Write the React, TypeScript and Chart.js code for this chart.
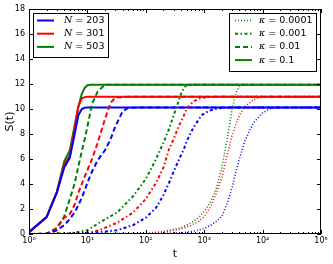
import React, { useEffect, useRef } from 'react';
import { Chart, registerables } from 'chart.js';
Chart.register(...registerables);

const BLUE = '#0000ff';
const RED = '#ff0000';
const GREEN = '#008000';

const nLabels = ['203', '301', '503'];
const nColors = [BLUE, RED, GREEN];
const kappaLabels = ['0.0001', '0.001', '0.01', '0.1'];
const kappaDash: number[][] = [[1, 2], [3, 2.5, 1.5, 2.5], [5, 3], []];
const kappaWidth = [1.5, 2, 2, 2];

const yTicks = [0, 2, 4, 6, 8, 10, 12, 14, 16, 18];
const xTicks = [1, 10, 100, 1000, 10000, 100000];

// kappa = 0.1 (solid)
const tK1 = [1, 2, 3, 4, 5, 6, 7, 8, 9, 10, 12, 15, 20, 100000];
const sK1N203 = [0.15, 1.35, 3.3, 5.3, 6.1, 7.9, 9.5, 10.0, 10.1, 10.12, 10.12, 10.12, 10.12, 10.12];
const sK1N301 = [0.15, 1.35, 3.35, 5.5, 6.3, 8.3, 10.2, 10.85, 10.95, 10.98, 10.98, 10.98, 10.98, 10.98];
const sK1N503 = [0.15, 1.35, 3.4, 5.8, 6.7, 8.6, 10.2, 11.2, 11.7, 11.9, 11.95, 11.95, 11.95, 11.95];

// kappa = 0.01 (dashed)
const tK2 = [1, 2, 3, 4, 5, 6, 7, 8, 9, 10, 12, 15, 20, 25, 30, 40, 50, 70, 100000];
const sK2N203 = [0, 0.01, 0.3, 0.7, 1.2, 1.7, 2.3, 2.9, 3.5, 4.1, 5.0, 5.9, 6.7, 7.6, 8.6, 9.8, 10.1, 10.12, 10.12];
const sK2N301 = [0, 0.02, 0.45, 1.3, 1.6, 2.3, 3.3, 4.0, 4.6, 5.1, 6.0, 7.3, 9.2, 10.5, 10.9, 10.95, 10.98, 10.98, 10.98];
const sK2N503 = [0, 0.02, 0.5, 1.4, 2.8, 4.0, 5.4, 6.6, 7.6, 8.6, 10.4, 11.4, 11.95, 11.95, 11.95, 11.95, 11.95, 11.95, 11.95];

// kappa = 0.001 (dash-dot)
const tK3 = [1, 5, 10, 16, 32, 60, 100, 150, 200, 250, 300, 350, 400, 450, 500, 650, 900, 1200, 1700, 2500, 100000];
const sK3N203 = [0, 0, 0.05, 0.15, 0.3, 0.7, 1.3, 2.1, 3.1, 4.1, 5.0, 5.7, 6.3, 6.8, 7.4, 8.5, 9.5, 9.85, 10.05, 10.12, 10.12];
const sK3N301 = [0, 0.02, 0.1, 0.3, 0.9, 1.7, 2.8, 4.1, 5.3, 6.8, 7.6, 8.4, 9.0, 9.5, 10.0, 10.6, 10.9, 10.95, 10.98, 10.98, 10.98];
const sK3N503 = [0, 0.05, 0.3, 0.9, 1.7, 3.0, 4.4, 6.0, 7.3, 8.4, 9.5, 10.4, 11.2, 11.7, 11.9, 11.95, 11.95, 11.95, 11.95, 11.95, 11.95];

// kappa = 0.0001 (dotted)
const tK4 = [1, 100, 200, 400, 600, 800, 1000, 1300, 1600, 2000, 2500, 3000, 3500, 4000, 5000, 7000, 10000, 14000, 20000, 100000];
const sK4N203 = [0, 0.01, 0.05, 0.1, 0.2, 0.3, 0.45, 0.7, 1.0, 1.4, 2.5, 3.7, 5.0, 6.0, 7.5, 8.9, 9.7, 10.05, 10.12, 10.12];
const sK4N301 = [0, 0.03, 0.15, 0.4, 0.7, 1.0, 1.4, 2.2, 3.2, 4.5, 6.4, 7.9, 8.8, 9.5, 10.2, 10.75, 10.95, 10.98, 10.98, 10.98];
const sK4N503 = [0, 0.05, 0.2, 0.5, 0.9, 1.3, 1.8, 2.6, 3.6, 5.3, 7.7, 10.0, 11.3, 11.8, 11.95, 11.95, 11.95, 11.95, 11.95, 11.95];

const series: { t: number[]; vals: number[][] }[] = [
  { t: tK4, vals: [sK4N203, sK4N301, sK4N503] },
  { t: tK3, vals: [sK3N203, sK3N301, sK3N503] },
  { t: tK2, vals: [sK2N203, sK2N301, sK2N503] },
  { t: tK1, vals: [sK1N203, sK1N301, sK1N503] },
];

const SUP: Record<number, string> = { 0: '⁰', 1: '¹', 2: '²', 3: '³', 4: '⁴', 5: '⁵' };
const FONT = "'DejaVu Sans', sans-serif";

const framePlugin = {
  id: 'frame',
  afterDraw(chart: any) {
    const { ctx, chartArea: a, scales } = chart;
    const xs = scales.x;
    const ys = scales.y;
    ctx.save();
    ctx.strokeStyle = '#000';
    ctx.lineWidth = 1;
    ctx.strokeRect(a.left + 0.5, a.top + 0.5, a.right - a.left - 1, a.bottom - a.top - 1);
    ctx.beginPath();
    for (const v of yTicks) {
      const py = Math.round(ys.getPixelForValue(v)) + 0.5;
      ctx.moveTo(a.left, py); ctx.lineTo(a.left + 4, py);
      ctx.moveTo(a.right, py); ctx.lineTo(a.right - 4, py);
    }
    for (let k = 0; k < 5; k++) {
      for (let m = 1; m <= 10; m++) {
        const v = m * Math.pow(10, k);
        const px = Math.round(xs.getPixelForValue(v)) + 0.5;
        const len = m === 1 || m === 10 ? 4 : 2;
        ctx.moveTo(px, a.bottom); ctx.lineTo(px, a.bottom - len);
        ctx.moveTo(px, a.top); ctx.lineTo(px, a.top + len);
      }
    }
    ctx.stroke();

    // axis titles
    ctx.fillStyle = '#000';
    ctx.font = `11px ${FONT}`;
    ctx.textAlign = 'center';
    ctx.textBaseline = 'middle';
    ctx.fillText('t', (a.left + a.right) / 2, 254);
    ctx.save();
    ctx.translate(10, (a.top + a.bottom) / 2);
    ctx.rotate(-Math.PI / 2);
    ctx.fillText('S(t)', 0, 0);
    ctx.restore();

    const drawBox = (x: number, y: number, w: number, h: number) => {
      ctx.fillStyle = '#fff';
      ctx.fillRect(x, y, w, h);
      ctx.strokeStyle = '#000';
      ctx.lineWidth = 1;
      ctx.strokeRect(x + 0.5, y + 0.5, w, h);
    };
    const drawEntry = (x0: number, x1: number, y: number, color: string, dash: number[], lw: number, sym: string, rest: string, tx: number) => {
      ctx.save();
      ctx.strokeStyle = color;
      ctx.lineWidth = lw;
      ctx.setLineDash(dash);
      ctx.beginPath();
      ctx.moveTo(x0, y); ctx.lineTo(x1, y);
      ctx.stroke();
      ctx.restore();
      ctx.fillStyle = '#000';
      ctx.textAlign = 'left';
      ctx.textBaseline = 'middle';
      ctx.font = `italic 9.5px 'DejaVu Serif', serif`;
      ctx.fillText(sym, tx, y);
      const w = ctx.measureText(sym).width;
      ctx.font = `9.5px ${FONT}`;
      ctx.fillText(rest, tx + w, y);
    };
    drawBox(33, 13, 75, 44);
    nLabels.forEach((lab, i) => {
      drawEntry(37, 54, 20.5 + i * 13.2, nColors[i], [], 2, 'N', ' = ' + lab, 64);
    });
    drawBox(229, 13, 87, 58);
    kappaLabels.forEach((lab, i) => {
      drawEntry(235, 252, 20.5 + i * 13.2, GREEN, kappaDash[i], kappaWidth[i], 'κ', ' = ' + lab, 259);
    });
    ctx.restore();
  },
};

export default function App() {
  const ref = useRef<HTMLCanvasElement>(null);
  useEffect(() => {
    document.body.style.margin = '0';
    const datasets: any[] = [];
    series.forEach((s, ki) => {
      s.vals.forEach((v, ni) => {
        datasets.push({
          label: `N=${nLabels[ni]} k=${kappaLabels[ki]}`,
          data: s.t.map((t, i) => ({ x: t, y: v[i] })),
          borderColor: nColors[ni],
          borderWidth: kappaWidth[ki],
          borderDash: kappaDash[ki],
          pointRadius: 0,
          fill: false,
          tension: 0,
        });
      });
    });
    const chart = new Chart(ref.current!, {
      type: 'line',
      data: { datasets },
      options: {
        animation: false,
        responsive: false,
        devicePixelRatio: 1,
        layout: { padding: { top: 9, right: 12, left: 0, bottom: 0 } },
        plugins: { legend: { display: false }, tooltip: { enabled: false } },
        scales: {
          x: {
            type: 'logarithmic',
            min: 1,
            max: 100000,
            grid: { display: false, drawTicks: false },
            border: { display: false },
            afterBuildTicks: (s: any) => { s.ticks = xTicks.map((v) => ({ value: v })); },
            afterFit: (s: any) => { s.height = 30; },
            ticks: {
              autoSkip: false,
              maxRotation: 0,
              padding: 2,
              color: '#000',
              font: { family: FONT, size: 8 },
              callback: (v: any) => '10' + SUP[Math.round(Math.log10(Number(v)))],
            },
          },
          y: {
            min: 0,
            max: 18,
            grid: { display: false, drawTicks: false },
            border: { display: false },
            afterBuildTicks: (s: any) => { s.ticks = yTicks.map((v) => ({ value: v })); },
            afterFit: (s: any) => { s.width = 29; },
            ticks: {
              padding: 4,
              color: '#000',
              font: { family: FONT, size: 8 },
              callback: (v: any) => String(v),
            },
          },
        },
      },
      plugins: [framePlugin],
    });
    return () => chart.destroy();
  }, []);
  return (
    <div style={{ width: 333, height: 264 }}>
      <canvas ref={ref} width={333} height={264} style={{ display: 'block' }} />
    </div>
  );
}
